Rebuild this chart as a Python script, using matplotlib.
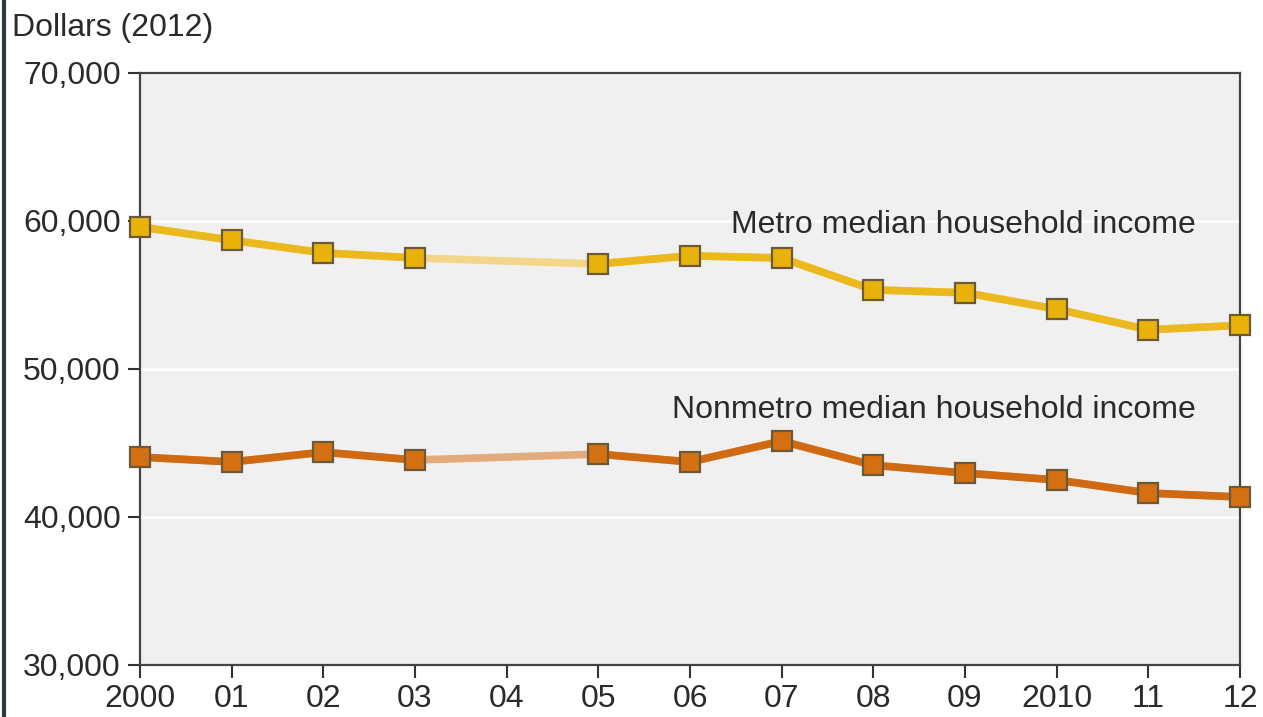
import matplotlib
matplotlib.use("Agg")
import matplotlib.pyplot as plt
import numpy as np

plt.rcParams['font.family'] = ['Liberation Sans', 'DejaVu Sans']

years = [2000, 2001, 2002, 2003, 2005, 2006, 2007, 2008, 2009, 2010, 2011, 2012]
metro = [59600, 58700, 57850, 57500, 57100, 57650, 57500, 55350, 55150, 54050, 52650, 52950]
nonmetro = [44050, 43720, 44380, 43850, 44250, 43720, 45130, 43500, 42970, 42500, 41620, 41350]
xtick_vals = list(range(2000, 2013))
xtick_labels = ['2000', '01', '02', '03', '04', '05', '06', '07', '08', '09', '2010', '11', '12']
ytick_vals = [30000, 40000, 50000, 60000, 70000]

fig = plt.figure(figsize=(12.63, 7.17), dpi=100)
ax = fig.add_axes([140/1263, 1-665/717, 1100/1263, 592/717])
ax.set_facecolor('#F0F0F0')

for yv in [40000, 50000, 60000]:
    ax.axhline(yv, color='white', lw=2, zorder=1)


def draw_series(vals, dark, light, mface):
    ax.plot(years, vals, color=light, lw=5.5, zorder=2, solid_capstyle='butt')
    seg_x, seg_y = [years[0]], [vals[0]]
    for i in range(1, len(years)):
        if years[i] - years[i-1] == 1:
            seg_x.append(years[i]); seg_y.append(vals[i])
        else:
            ax.plot(seg_x, seg_y, color=dark, lw=5.5, zorder=3, solid_joinstyle='round')
            seg_x, seg_y = [years[i]], [vals[i]]
    ax.plot(seg_x, seg_y, color=dark, lw=5.5, zorder=3, solid_joinstyle='round')
    ax.plot(years, vals, ls='none', marker='s', ms=14, mfc=mface, mec='#6B5A3A',
            mew=1.6, zorder=4, clip_on=False)


draw_series(metro, '#EBB91E', '#F3D68A', '#E8B20A')
draw_series(nonmetro, '#CF6A12', '#E3AB7C', '#D46F12')

ax.set_xlim(2000, 2012)
ax.set_ylim(30000, 70000)
ax.set_xticks(xtick_vals)
ax.set_xticklabels(xtick_labels)
ax.set_yticks(ytick_vals)
ax.set_yticklabels([f'{v:,}' for v in ytick_vals])
ax.tick_params(axis='both', labelsize=23, colors='#333333', length=9, width=1.5,
               labelcolor='#2A2A2A')
ax.tick_params(axis='x', pad=5)
ax.tick_params(axis='y', pad=5)
for s in ax.spines.values():
    s.set_color('#444444')
    s.set_linewidth(1.6)

ax.text(2011.52, 59750, 'Metro median household income', ha='right', va='center',
        fontsize=23, color='#2A2A2A', zorder=5)
ax.text(2011.52, 47250, 'Nonmetro median household income', ha='right', va='center',
        fontsize=23, color='#2A2A2A', zorder=5)

fig.text(12/1263, 1-28/717, 'Dollars (2012)', ha='left', va='center', fontsize=23,
         color='#2A2A2A')

fig.add_artist(plt.Line2D([4/1263, 4/1263], [0, 1], color='#2E3A4A', lw=3,
                          transform=fig.transFigure))

fig.savefig('out.png', dpi=100, facecolor='white')
